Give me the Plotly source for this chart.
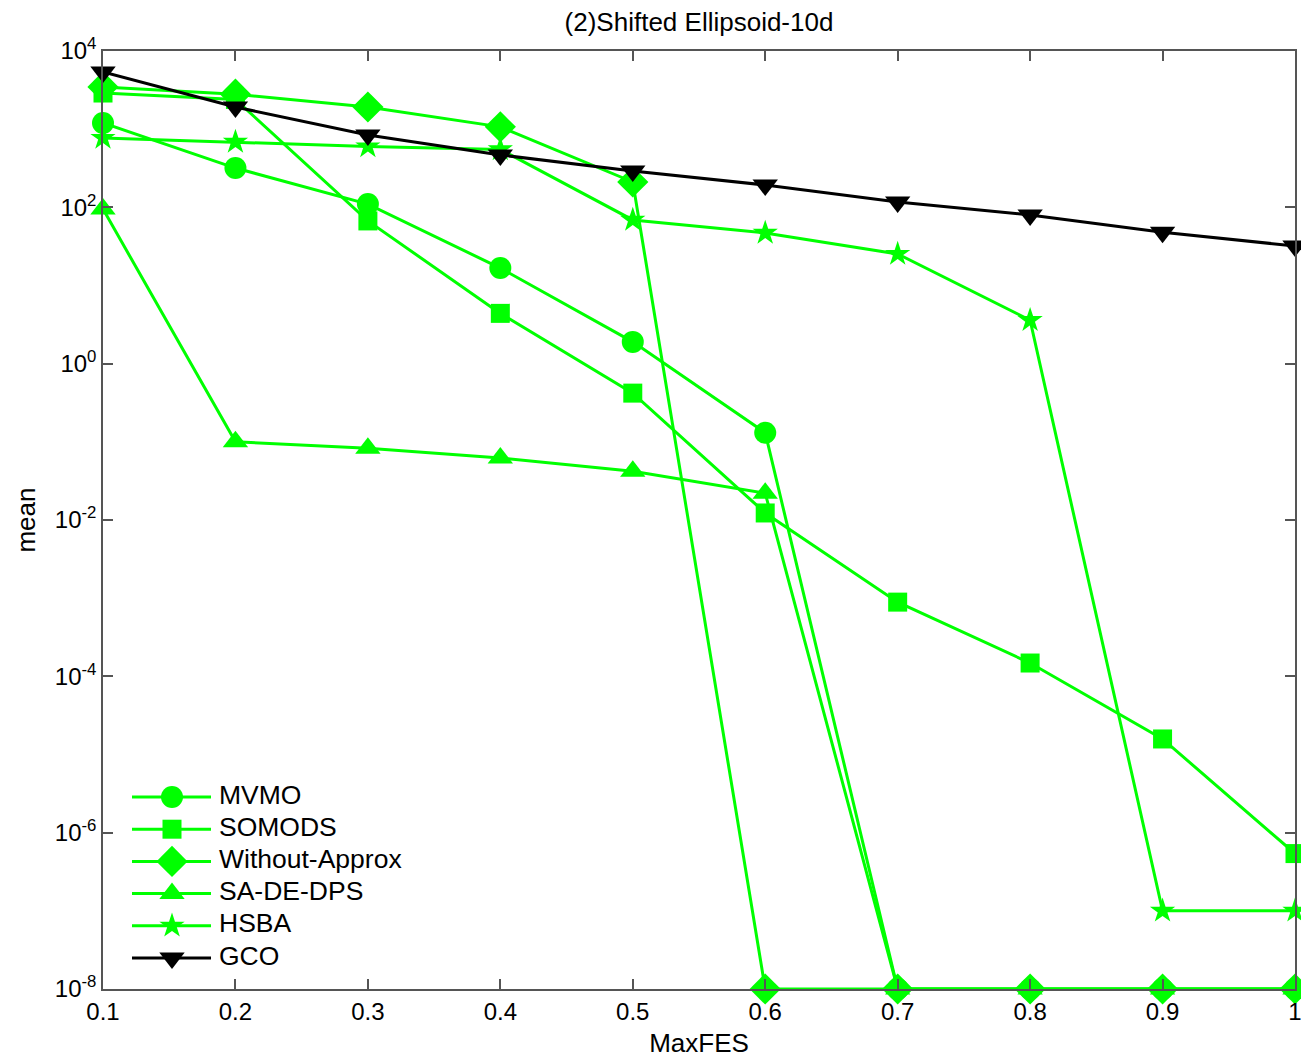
import plotly.graph_objects as go

# Fraction of the evaluation budget
max_fes = [0.1, 0.2, 0.3, 0.4, 0.5, 0.6, 0.7, 0.8, 0.9, 1.0]

# Mean best objective value per algorithm
mvmo = [1200, 318, 110, 16.7, 1.9, 0.131, 1e-8, 1e-8, 1e-8, 1e-8]
somods = [2900, 2400, 67, 4.4, 0.42, 0.0123, 8.9e-4, 1.48e-4, 1.58e-5, 5.4e-7]
without_approx = [3470, 2800, 1920, 1070, 211, 1e-8, 1e-8, 1e-8, 1e-8, 1e-8]
sa_de_dps = [95, 0.1, 0.083, 0.062, 0.042, 0.022, 1e-8, 1e-8, 1e-8, 1e-8]
hsba = [771, 686, 600, 550, 69, 47, 25.3, 3.6, 1e-7, 1e-7]
gco = [5400, 1920, 841, 468, 292, 193, 117, 80, 48, 32]

series_names = ["MVMO", "SOMODS", "Without-Approx", "SA-DE-DPS", "HSBA", "GCO"]
series_values = [mvmo, somods, without_approx, sa_de_dps, hsba, gco]

x_ticks = [0.1, 0.2, 0.3, 0.4, 0.5, 0.6, 0.7, 0.8, 0.9, 1.0]
x_tick_text = ["0.1", "0.2", "0.3", "0.4", "0.5", "0.6", "0.7", "0.8", "0.9", "1"]
y_ticks = [1e4, 1e2, 1e0, 1e-2, 1e-4, 1e-6, 1e-8]
y_tick_text = ["10<sup>4</sup>", "10<sup>2</sup>", "10<sup>0</sup>", "10<sup>-2</sup>",
               "10<sup>-4</sup>", "10<sup>-6</sup>", "10<sup>-8</sup>"]

GREEN = "#00FF00"
styles = [
    dict(color=GREEN, symbol="circle", size=22),
    dict(color=GREEN, symbol="square", size=19),
    dict(color=GREEN, symbol="diamond", size=24),
    dict(color=GREEN, symbol="triangle-up", size=22),
    dict(color=GREEN, symbol="star", size=19),
    dict(color="#000000", symbol="triangle-down", size=22),
]

FONT = "Liberation Sans, Arial, sans-serif"

# Plot-area box in pixels (left, right, top, bottom)
PX_L, PX_R, PX_T, PX_B = 103, 1295, 51, 989
W, H = 1301, 1060

fig = go.Figure()
for name, vals, st in zip(series_names, series_values, styles):
    fig.add_trace(go.Scatter(
        x=max_fes, y=vals, name=name, mode="lines+markers",
        line=dict(color=st["color"], width=3),
        marker=dict(color=st["color"], symbol=st["symbol"], size=st["size"],
                    line=dict(width=0)),
        cliponaxis=False, showlegend=False,
    ))

# Legend drawn on a hidden overlay axis measured in pixels
leg_x0, leg_x1, leg_mark, leg_text = 132, 211, 172, 219
leg_y0, leg_dy = 797, 32.2
for i, (name, st) in enumerate(zip(series_names, styles)):
    yy = leg_y0 + i * leg_dy
    fig.add_trace(go.Scatter(
        x=[leg_x0, leg_x1], y=[yy, yy], mode="lines", xaxis="x2", yaxis="y2",
        line=dict(color=st["color"], width=3), showlegend=False,
        hoverinfo="skip", cliponaxis=False,
    ))
    fig.add_trace(go.Scatter(
        x=[leg_mark], y=[yy], mode="markers", xaxis="x2", yaxis="y2",
        marker=dict(color=st["color"], symbol=st["symbol"], size=st["size"],
                    line=dict(width=0)),
        showlegend=False, hoverinfo="skip", cliponaxis=False,
    ))
    fig.add_trace(go.Scatter(
        x=[leg_text], y=[yy], mode="text", text=[name], xaxis="x2", yaxis="y2",
        textposition="middle right", textfont=dict(size=26.5, color="black"),
        showlegend=False, hoverinfo="skip", cliponaxis=False,
    ))

axis_color = "#555555"
fig.update_layout(
    width=W, height=H,
    margin=dict(l=PX_L, r=W - PX_R, t=PX_T, b=H - PX_B),
    paper_bgcolor="white", plot_bgcolor="white",
    font=dict(family=FONT, size=24, color="black"),
    title=dict(text="(2)Shifted Ellipsoid-10d", x=(PX_L + PX_R) / 2 / W, xanchor="center",
               y=1 - 22 / H, yanchor="middle", font=dict(size=26)),
    showlegend=False,
    xaxis=dict(
        range=[0.1, 1.0], tickvals=x_ticks, ticktext=x_tick_text,
        showgrid=False, zeroline=False, showline=True, linecolor=axis_color,
        linewidth=1.5, mirror="ticks", ticks="inside", ticklen=10,
        tickcolor=axis_color, tickwidth=1.5, automargin=False,
        ticklabeloverflow="allow", tickfont=dict(size=24),
        title=dict(text="MaxFES", standoff=10, font=dict(size=26)),
    ),
    yaxis=dict(
        type="log", range=[-8, 4], tickvals=y_ticks, ticktext=y_tick_text,
        showgrid=False, zeroline=False, showline=True, linecolor=axis_color,
        linewidth=1.5, mirror="ticks", ticks="inside", ticklen=10,
        tickcolor=axis_color, tickwidth=1.5, automargin=False,
        ticklabeloverflow="allow", tickfont=dict(size=24),
        title=dict(text="mean", standoff=12, font=dict(size=26)),
    ),
    xaxis2=dict(range=[PX_L, PX_R], domain=[0, 1], visible=False,
                overlaying="x", anchor="y2", fixedrange=True),
    yaxis2=dict(range=[PX_B, PX_T], domain=[0, 1], visible=False,
                overlaying="y", anchor="x2", fixedrange=True),
)

fig.write_html("out.html")
